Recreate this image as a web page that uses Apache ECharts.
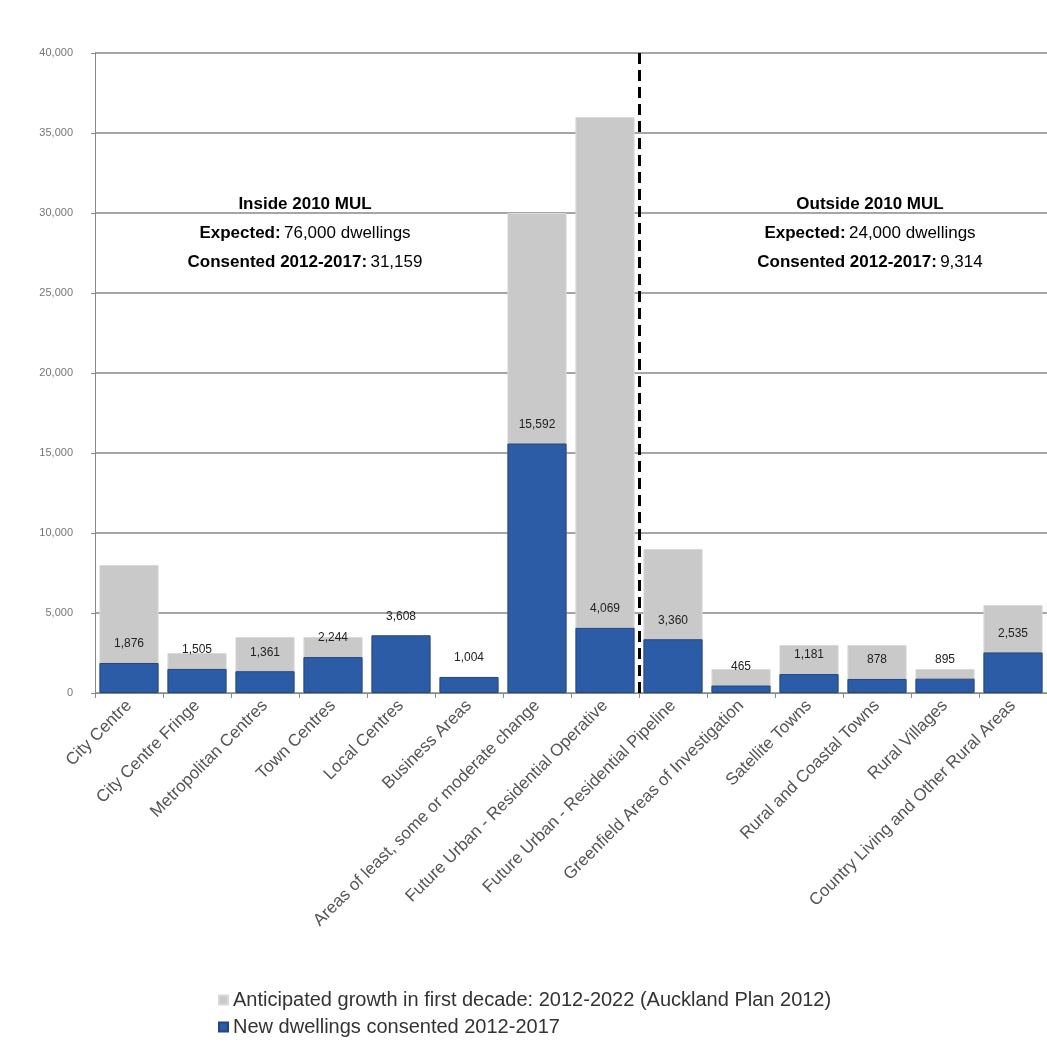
<!DOCTYPE html>
<html>
<head>
<meta charset="utf-8">
<title>Dwellings</title>
<script src="https://cdn.jsdelivr.net/npm/echarts@6/dist/echarts.min.js"></script>
<style>
  html, body { margin: 0; padding: 0; background: #fff; }
  #main { width: 1047px; height: 1045px; }
</style>
</head>
<body>
<div id="main"></div>
<script>
var categories = ['City Centre', 'City Centre Fringe', 'Metropolitan Centres', 'Town Centres', 'Local Centres',
  'Business Areas', 'Areas of least, some or moderate change', 'Future Urban - Residential Operative',
  'Future Urban - Residential Pipeline', 'Greenfield Areas of Investigation', 'Satellite Towns',
  'Rural and Coastal Towns', 'Rural Villages', 'Country Living and Other Rural Areas'];
var anticipated = [8000, 2500, 3500, 3500, 3000, 500, 30000, 36000, 9000, 1500, 3000, 3000, 1500, 5500];
var consented = [1876, 1505, 1361, 2244, 3608, 1004, 15592, 4069, 3360, 465, 1181, 878, 895, 2535];
var yTicks = { min: 0, max: 40000, interval: 5000 };
var mulBoundary = 8; // categories left of this are inside the 2010 MUL

var fmt = function (v) { return Number(v).toLocaleString('en-US'); };
var font = 'Liberation Sans, Arial, sans-serif';

var richStyle = {
  t: { fontSize: 17, fontWeight: 'bold', color: '#2f4f82', fontFamily: font, lineHeight: 29 },
  b: { fontSize: 17, fontWeight: 'bold', color: '#222', fontFamily: font, lineHeight: 29 },
  n: { fontSize: 17, color: '#222', fontFamily: font, lineHeight: 29 }
};

var chart = echarts.init(document.getElementById('main'));
chart.setOption({
  animation: false,
  textStyle: { fontFamily: font },
  grid: { left: 95, top: 53, width: 960, height: 640 },
  legend: {
    orient: 'vertical',
    left: 218,
    top: 990,
    padding: 0,
    itemWidth: 9,
    itemHeight: 9,
    itemGap: 7,
    icon: 'rect',
    textStyle: { fontSize: 20, color: '#333', fontFamily: font },
    data: ['Anticipated growth in first decade: 2012-2022 (Auckland Plan 2012)', 'New dwellings consented 2012-2017']
  },
  xAxis: [{
    type: 'category',
    data: categories,
    axisLine: { lineStyle: { color: '#888' } },
    axisTick: { show: true, length: 5, lineStyle: { color: '#888' } },
    axisLabel: { rotate: 45, fontSize: 17, color: '#555', margin: 10, interval: 0 }
  }, {
    type: 'value',
    min: 0,
    max: categories.length,
    show: false
  }],
  yAxis: {
    type: 'value',
    min: yTicks.min,
    max: yTicks.max,
    interval: yTicks.interval,
    axisLine: { show: true, lineStyle: { color: '#888' } },
    axisTick: { show: true, length: 4, lineStyle: { color: '#888' } },
    axisLabel: { fontSize: 11, color: '#777', margin: 22, formatter: fmt },
    splitLine: { lineStyle: { color: '#888', width: 1.5 } }
  },
  series: [{
    name: 'Anticipated growth in first decade: 2012-2022 (Auckland Plan 2012)',
    type: 'bar',
    data: anticipated,
    barWidth: '87%',
    barGap: '-100%',
    itemStyle: { color: '#c9c9c9', borderColor: '#d8d8d8', borderWidth: 1 }
  }, {
    name: 'New dwellings consented 2012-2017',
    type: 'bar',
    data: consented,
    barWidth: '87%',
    itemStyle: { color: '#2c5ca6', borderColor: '#24467f', borderWidth: 1 },
    label: {
      show: true,
      position: 'top',
      distance: 13,
      fontSize: 12,
      color: '#222',
      formatter: function (p) { return fmt(p.value); }
    }
  }, {
    name: 'boundary',
    type: 'scatter',
    xAxisIndex: 1,
    data: [[mulBoundary, 0]],
    symbolSize: 0,
    silent: true,
    z: 5,
    markLine: {
      silent: true,
      symbol: 'none',
      label: { show: false },
      lineStyle: { color: '#000', type: [11, 6], width: 3 },
      data: [{ xAxis: mulBoundary }]
    }
  }],
  graphic: [{
    type: 'text', x: 305, y: 190,
    style: {
      text: '{t|Inside 2010 MUL}\n{b|Expected:} {n|76,000 dwellings}\n{b|Consented 2012-2017:} {n|31,159}',
      textAlign: 'center', rich: richStyle
    }
  }, {
    type: 'text', x: 870, y: 190,
    style: {
      text: '{t|Outside 2010 MUL}\n{b|Expected:} {n|24,000 dwellings}\n{b|Consented 2012-2017:} {n|9,314}',
      textAlign: 'center', rich: richStyle
    }
  }]
});
</script>
</body>
</html>
